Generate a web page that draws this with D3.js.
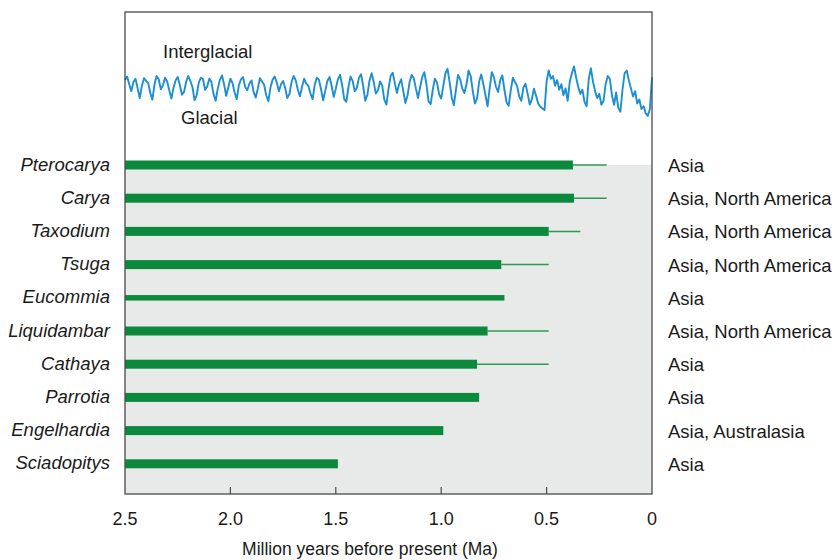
<!DOCTYPE html>
<html>
<head>
<meta charset="utf-8">
<script src="https://cdn.jsdelivr.net/npm/d3@7"></script>
<style>
  html, body { margin: 0; padding: 0; background: #ffffff; }
  svg { display: block; }
  text { font-family: "Liberation Sans", Arial, Helvetica, sans-serif; fill: #1a1a1a; }
</style>
</head>
<body>
<svg id="chart" width="836" height="560"></svg>
<script>
// Taxa that disappeared from Europe during the Pleistocene
const taxa = ["Pterocarya", "Carya", "Taxodium", "Tsuga", "Eucommia",
              "Liquidambar", "Cathaya", "Parrotia", "Engelhardia", "Sciadopitys"];
// Where each taxon survives today
const refugia = ["Asia", "Asia, North America", "Asia, North America", "Asia, North America", "Asia",
                 "Asia, North America", "Asia", "Asia", "Asia, Australasia", "Asia"];
// Last regular occurrence in Europe (Ma)
const lastCommon = [0.375, 0.37, 0.49, 0.715, 0.70, 0.78, 0.83, 0.82, 0.99, 1.49];
// Later sporadic records (Ma); null where there are none
const lastSporadic = [0.215, 0.215, 0.34, 0.49, null, 0.49, 0.49, null, null, null];
// Record quality: full or reduced
const recordType = ["full", "full", "full", "full", "reduced", "full", "full", "full", "full", "full"];

// Axis ticks (Ma)
const tickValues = [2.5, 2.0, 1.5, 1.0, 0.5, 0];
const tickLabels = ["2.5", "2.0", "1.5", "1.0", "0.5", "0"];
const innerTicks = [2.0, 1.5, 1.0, 0.5];

// Benthic d18O climate record, 10 kyr steps from 2.50 Ma to 0 Ma (per mil)
const climateStart = 2.5;
const climateStep = 0.01;
const climate = [
  // 2.50 - 2.00 Ma
  3.55,3.42,3.70,3.95,3.62,3.50,3.85,4.20,3.76,3.48,3.58,3.66,4.02,4.26,3.70,3.40,3.52,3.88,3.74,3.46,
  3.60,3.92,4.22,3.84,3.56,3.44,3.72,4.08,3.98,3.62,3.40,3.58,3.80,4.28,4.10,3.64,3.46,3.52,3.90,3.78,
  3.50,3.62,4.06,4.30,3.86,3.54,3.38,3.70,4.12,3.82,3.50,
  // 1.99 - 1.50 Ma
  3.66,4.00,4.24,3.74,3.52,3.44,3.80,3.92,3.68,3.56,3.98,4.18,3.86,3.48,3.60,3.72,4.10,4.32,3.82,3.54,
  3.42,3.64,3.96,3.70,3.58,3.84,4.20,4.06,3.62,3.40,3.56,3.90,4.14,3.78,3.50,3.68,3.76,4.04,4.24,3.72,
  3.46,3.54,3.88,4.28,3.94,3.58,3.44,3.74,4.16,3.86,
  // 1.49 - 1.00 Ma
  3.52,3.36,3.72,4.24,4.34,3.80,3.42,3.58,3.96,3.82,3.46,3.34,3.78,4.30,4.08,3.56,3.30,3.62,4.04,3.92,
  3.60,3.74,4.26,4.44,3.88,3.40,3.28,3.66,4.02,3.70,3.52,3.94,4.38,4.12,3.62,3.36,3.48,3.86,4.20,3.80,
  3.44,3.26,3.70,4.32,4.42,3.90,3.50,3.64,4.06,4.22,
  // 0.99 - 0.50 Ma
  3.76,3.30,3.14,3.62,4.18,4.46,3.90,3.36,3.52,3.86,4.02,3.70,3.20,3.40,3.96,4.40,4.22,3.60,3.34,3.70,
  4.10,4.50,3.84,3.26,3.44,3.80,3.98,3.56,3.38,3.90,4.36,4.48,3.92,3.46,3.62,3.76,4.14,4.30,3.82,3.68,
  4.04,4.44,4.24,3.86,4.12,4.40,4.52,4.58,4.64,3.60,
  // 0.49 - 0.00 Ma
  3.20,3.50,3.40,3.75,3.55,3.90,3.70,4.10,3.85,4.30,3.60,3.30,3.05,3.45,3.80,4.05,3.90,4.35,4.50,3.50,
  3.12,3.60,3.95,4.20,4.05,4.45,4.30,3.70,3.40,3.50,4.10,4.45,4.00,4.55,4.70,3.90,3.30,3.20,3.55,3.85,
  4.15,3.95,4.40,4.25,4.60,4.50,4.75,4.85,4.60,3.45
];

const svg = d3.select("#chart");
const plot = { left: 125, right: 652, top: 12, bottom: 494 };

const x = d3.scaleLinear().domain([2.5, 0]).range([plot.left, plot.right]);
const y = d3.scaleBand().domain(taxa).range([148.4, 480.4]).paddingInner(0).paddingOuter(0);
const yClimate = d3.scaleLinear().domain([3.0, 5.0]).range([65, 120]);

const green = "#0b8a3e";

// Shaded panel behind the range bars
svg.append("rect")
  .attr("x", plot.left).attr("y", y(taxa[0]) + y.bandwidth() / 2)
  .attr("width", plot.right - plot.left)
  .attr("height", plot.bottom - (y(taxa[0]) + y.bandwidth() / 2))
  .attr("fill", "#e8e9e9");

// Climate curve
const line = d3.line()
  .x((d, i) => x(climateStart - i * climateStep))
  .y(d => yClimate(d));
svg.append("path")
  .datum(climate)
  .attr("d", line)
  .attr("fill", "none")
  .attr("stroke", "#1b8fd2")
  .attr("stroke-width", 1.9)
  .attr("stroke-linejoin", "round");

svg.append("text").attr("x", 163).attr("y", 58).attr("font-size", 18.5).text("Interglacial");
svg.append("text").attr("x", 181).attr("y", 124).attr("font-size", 18.5).text("Glacial");

// Range bars
const rows = svg.append("g").selectAll("g").data(taxa).join("g")
  .attr("transform", d => `translate(0,${y(d) + y.bandwidth() / 2})`);

rows.each(function (d, i) {
  const g = d3.select(this);
  if (lastSporadic[i] !== null) {
    g.append("line")
      .attr("x1", x(lastCommon[i])).attr("x2", x(lastSporadic[i]))
      .attr("y1", 0).attr("y2", 0)
      .attr("stroke", "#2b9a58").attr("stroke-width", 1.5);
  }
  const h = recordType[i] === "full" ? 9 : 5.5;
  g.append("rect")
    .attr("x", x(2.5)).attr("y", -h / 2)
    .attr("width", x(lastCommon[i]) - x(2.5)).attr("height", h)
    .attr("fill", green);
});

rows.append("text")
  .attr("x", 110).attr("y", 5.5)
  .attr("text-anchor", "end")
  .attr("font-size", 18.5)
  .attr("font-style", "italic")
  .text(d => d);

rows.append("text")
  .attr("x", 668).attr("y", 7)
  .attr("font-size", 18.5)
  .text((d, i) => refugia[i]);

// Frame
svg.append("rect")
  .attr("x", plot.left).attr("y", plot.top)
  .attr("width", plot.right - plot.left).attr("height", plot.bottom - plot.top)
  .attr("fill", "none").attr("stroke", "#4a4a4a").attr("stroke-width", 1.3);

// Bottom axis: inward ticks, labels beneath
const axis = svg.append("g");
axis.selectAll("line").data(innerTicks).join("line")
  .attr("x1", d => x(d)).attr("x2", d => x(d))
  .attr("y1", plot.bottom).attr("y2", plot.bottom - 7)
  .attr("stroke", "#4a4a4a").attr("stroke-width", 1.2);
axis.selectAll("text").data(tickValues).join("text")
  .attr("x", d => x(d)).attr("y", 525)
  .attr("text-anchor", "middle")
  .attr("font-size", 18)
  .text((d, i) => tickLabels[i]);

svg.append("text")
  .attr("x", 370).attr("y", 555)
  .attr("text-anchor", "middle")
  .attr("font-size", 17.5)
  .text("Million years before present (Ma)");
</script>
</body>
</html>
